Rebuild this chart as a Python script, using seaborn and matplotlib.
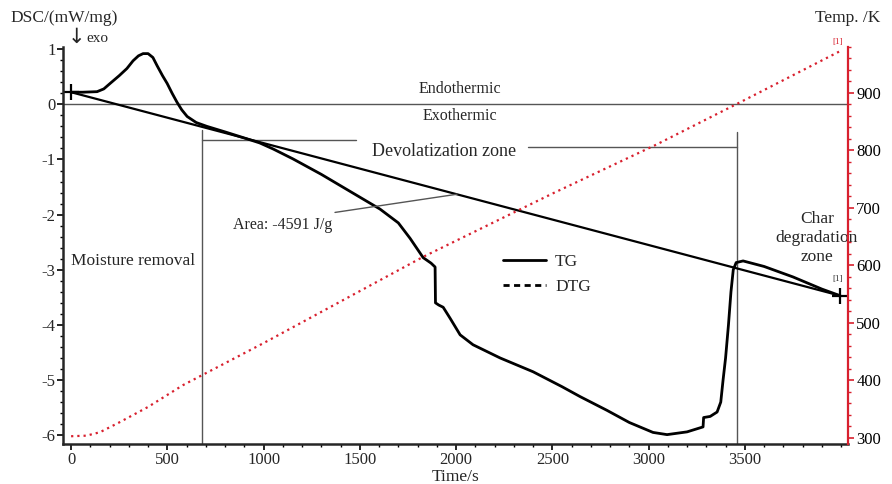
import numpy as np
import pandas as pd
import matplotlib
matplotlib.use("Agg")
import matplotlib.pyplot as plt
from matplotlib.lines import Line2D
from matplotlib.ticker import MultipleLocator
import seaborn as sns

# DSC signal (TG in the legend), time in s, value in mW/mg
dsc_time = [0, 60, 135, 170, 203, 250, 290, 322, 350, 374, 400, 425, 447, 475,
            499, 525, 550, 575, 603, 650, 706, 800, 900, 980, 1050, 1153, 1300,
            1450, 1605, 1700, 1761, 1829, 1870, 1891, 1893, 1910, 1933, 1969,
            2021, 2088, 2229, 2400, 2550, 2644, 2784, 2900, 3023, 3096, 3200,
            3283, 3286, 3320, 3356, 3375, 3387, 3400, 3415, 3428, 3440, 3455,
            3491, 3600, 3750, 3900, 3995]
dsc_value = [0.22, 0.22, 0.23, 0.28, 0.38, 0.52, 0.65, 0.79, 0.88, 0.92, 0.92,
             0.85, 0.70, 0.52, 0.38, 0.20, 0.04, -0.10, -0.22, -0.33, -0.40,
             -0.50, -0.61, -0.70, -0.81, -0.99, -1.27, -1.58, -1.90, -2.15,
             -2.43, -2.78, -2.88, -2.95, -3.60, -3.64, -3.68, -3.88, -4.18,
             -4.36, -4.60, -4.85, -5.12, -5.30, -5.55, -5.77, -5.95, -5.99,
             -5.94, -5.85, -5.68, -5.66, -5.58, -5.40, -5.00, -4.60, -4.00,
             -3.40, -3.00, -2.87, -2.84, -2.94, -3.13, -3.35, -3.47]

# integration baseline (start / end points)
base_time = [0, 3995]
base_value = [0.22, -3.47]

# furnace temperature, K
temp_time = [0, 80, 150, 250, 400, 582, 1000, 1829, 2500, 3039, 3500, 3990]
temp_value = [303, 304, 310, 327, 354, 392, 465, 615, 725, 810, 888, 972]

x_ticks = [0, 500, 1000, 1500, 2000, 2500, 3000, 3500]
y_ticks = [1, 0, -1, -2, -3, -4, -5, -6]
t_ticks = [300, 400, 500, 600, 700, 800, 900]

# zone markers
zone_left = 680
zone_right = 3460

W, H = 892, 484
SERIF = ['Liberation Serif', 'DejaVu Serif']
RED = '#d8202e'
GREY = '#555555'

sns.set_theme(style='ticks')
plt.rcParams['font.family'] = SERIF
plt.rcParams['axes.unicode_minus'] = False

fig = plt.figure(figsize=(W / 100, H / 100), dpi=100)
ax = fig.add_axes([63 / W, (H - 444) / H, (848 - 63) / W, (444 - 47) / H])
ax2 = ax.twinx()

dsc = pd.DataFrame({'time': dsc_time, 'value': dsc_value})
base = pd.DataFrame({'time': base_time, 'value': base_value})
temp = pd.DataFrame({'time': temp_time, 'value': temp_value})

# zero line and zone brackets
ax.axhline(0, color=GREY, lw=1.0, zorder=1)
ax.plot([zone_left, zone_left], [-6.2, -0.47], color=GREY, lw=1.0)
ax.plot([zone_right, zone_right], [-6.2, -0.51], color=GREY, lw=1.0)
ax.plot([zone_left, 1480], [-0.65, -0.65], color=GREY, lw=1.0)
ax.plot([2374, zone_right], [-0.78, -0.78], color=GREY, lw=1.0)

sns.lineplot(data=base, x='time', y='value', ax=ax, color='black', lw=1.6,
             estimator=None, sort=False)
sns.lineplot(data=dsc, x='time', y='value', ax=ax, color='black', lw=2.0,
             estimator=None, sort=False)
ax.plot(base_time, base_value, ls='none', marker='+', ms=11, mew=1.6,
        color='black', clip_on=False)

sns.lineplot(data=temp, x='time', y='value', ax=ax2, color=RED, lw=1.6,
             ls=(0, (1, 1.8)), estimator=None, sort=False)

ax.set_xlim(-42, 4036)
ax.set_ylim(-6.16, 1.04)
ax2.set_ylim(289.5, 980)

ax.set_xticks(x_ticks)
ax.set_yticks(y_ticks)
ax2.set_yticks(t_ticks)
ax.xaxis.set_minor_locator(MultipleLocator(100))
ax.yaxis.set_minor_locator(MultipleLocator(0.2))
ax2.yaxis.set_minor_locator(MultipleLocator(20))

ax.set_xlabel('Time/s', fontsize=12.5, labelpad=1)
ax.set_ylabel('')
ax2.set_ylabel('')

for a in (ax, ax2):
    a.spines['top'].set_visible(False)
ax.spines['right'].set_visible(False)
ax.spines['left'].set_linewidth(1.8)
ax.spines['bottom'].set_linewidth(1.8)
ax2.spines['left'].set_visible(False)
ax2.spines['bottom'].set_visible(False)
ax2.spines['right'].set_color(RED)
ax2.spines['right'].set_linewidth(1.6)

ax.tick_params(axis='both', which='major', labelsize=12, length=4, width=1.2,
               color='black', pad=1.5)
ax.tick_params(axis='both', which='minor', length=2.5, width=1.0, color='black')
ax2.tick_params(axis='y', which='major', labelsize=12, length=4, width=1.2,
                color=RED, labelcolor='black', pad=2)
ax2.tick_params(axis='y', which='minor', length=2.5, width=1.0, color=RED)

# annotations
ax.text(2021, 0.27, 'Endothermic', fontsize=11.5, ha='center', va='center')
ax.text(2021, -0.22, 'Exothermic', fontsize=11.5, ha='center', va='center')
ax.text(1940, -0.86, 'Devolatization zone', fontsize=13, ha='center',
        va='center')
ax.text(0, -2.85, 'Moisture removal', fontsize=12.5, ha='left', va='center')
ax.text(3875, -2.42, 'Char\ndegradation\nzone', fontsize=12.5, ha='center',
        va='center', linespacing=1.25)
ax.text(842, -2.18, 'Area: -4591 J/g', fontsize=11.5, ha='left', va='center')
ax.plot([1371, 2005], [-1.96, -1.63], color=GREY, lw=1.0)
ax.text(3984, -3.16, '[1]', fontsize=6.5, ha='center', va='center',
        color='#333333')
ax2.text(3984, 989, '[1]', fontsize=6.5, ha='center', va='center',
         color=RED, clip_on=False)

handles = [Line2D([], [], color='black', lw=2.0),
           Line2D([], [], color='black', lw=2.0, ls=(0, (2.2, 1.6)))]
ax.legend(handles, ['TG', 'DTG'], loc='upper left', frameon=False,
          bbox_to_anchor=((503 - 63) / 785, (444 - 254) / 397),
          borderaxespad=0, borderpad=0, fontsize=12.5, handlelength=2.5,
          handletextpad=0.5, labelspacing=0.5)

fig.text(10 / W, 1 - 18 / H, 'DSC/(mW/mg)', fontsize=12.5, ha='left',
         va='center')
fig.text(76 / W, 1 - 37 / H, '\u2193', fontsize=15, ha='center', va='center',
         family=['DejaVu Sans'])
fig.text(86 / W, 1 - 38 / H, 'exo', fontsize=11, ha='left', va='center')
fig.text(880 / W, 1 - 18 / H, 'Temp. /K', fontsize=12.5, ha='right',
         va='center')

fig.savefig('out.png', dpi=100)
